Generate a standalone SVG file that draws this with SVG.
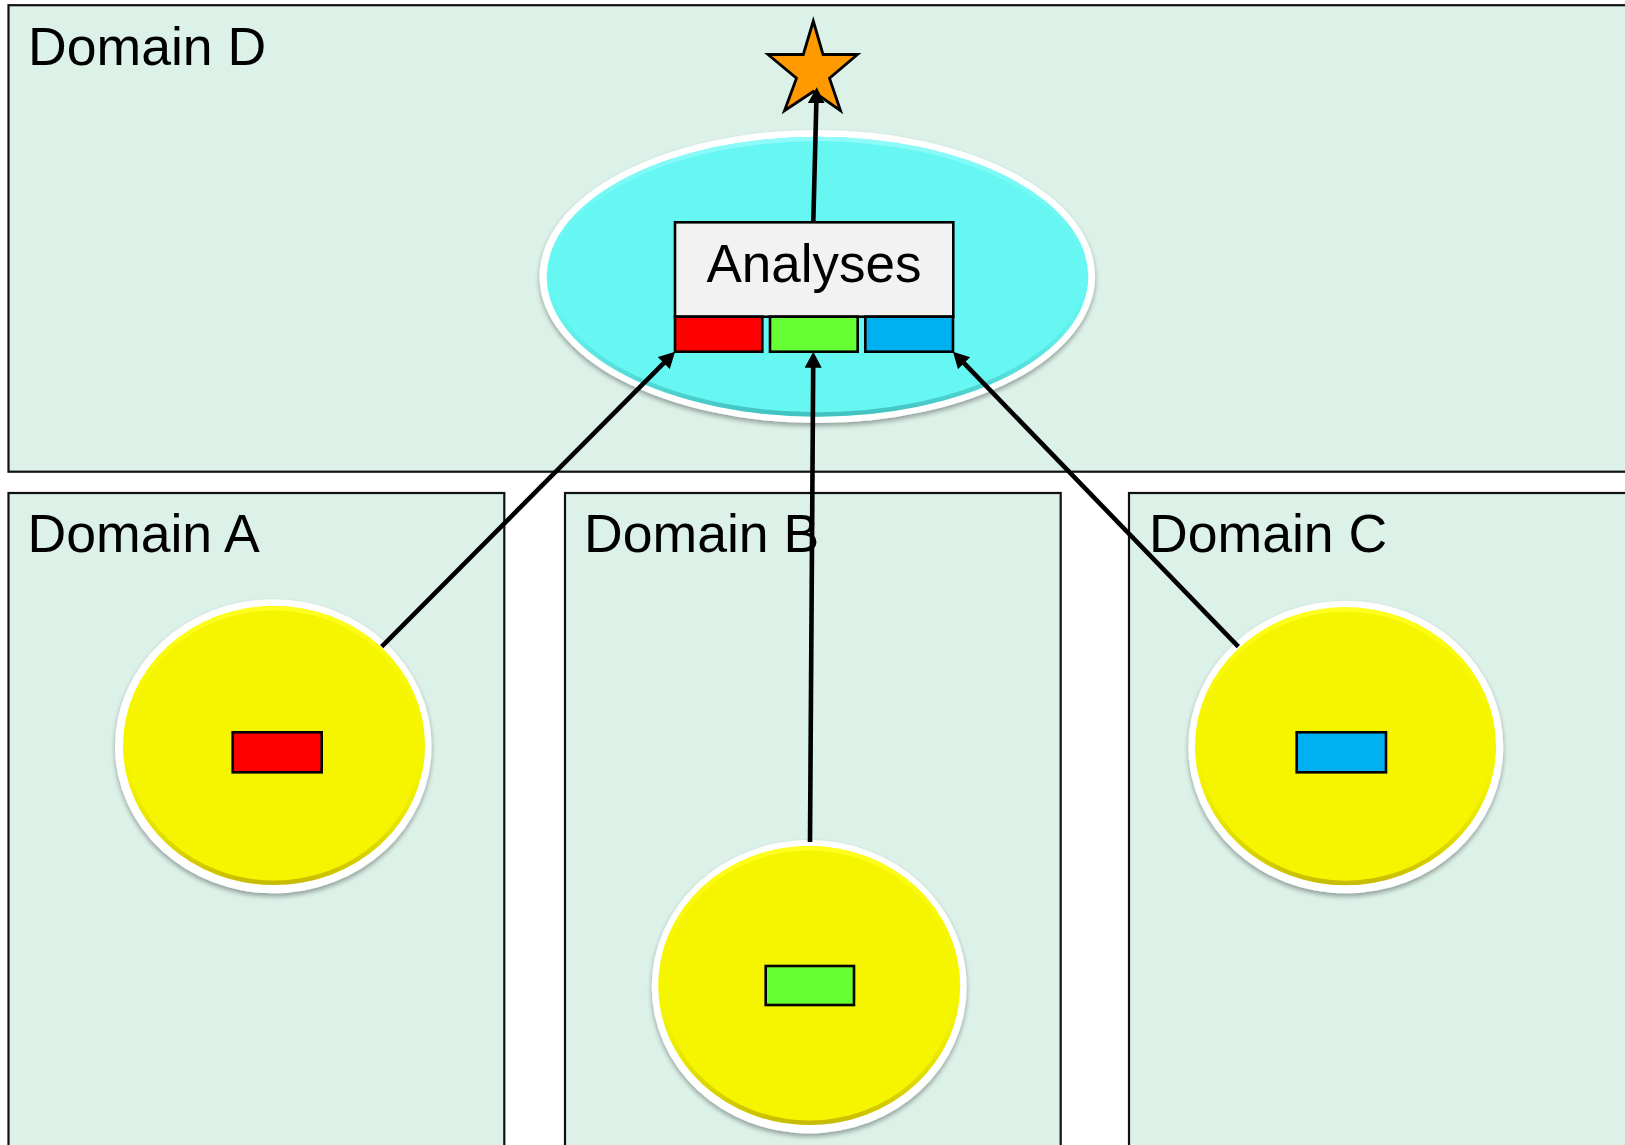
<svg xmlns="http://www.w3.org/2000/svg" width="1625" height="1145" viewBox="0 0 1625 1145">
  <style>
    .domain { fill: #DCF1E8; stroke: #111; stroke-width: 2.2; }
    .label { font-family: "Liberation Sans", Arial, sans-serif; font-size: 53px; fill: #000; }
    .domain-label { font-size: 53.6px; }
    .ring { fill: #fff; filter: url(#shadow); }
    .chip { stroke: #000; stroke-width: 2.6; }
    .red { fill: #FF0000; }
    .green { fill: #66FF33; }
    .blue { fill: #00B0F0; }
    .link { fill: none; stroke: #000; stroke-width: 4.6; marker-end: url(#head); }
  </style>
  <defs>
    <filter id="shadow" x="-10%" y="-10%" width="120%" height="125%">
      <feGaussianBlur in="SourceAlpha" stdDeviation="2.5"/>
      <feOffset dx="0" dy="3" result="b"/>
      <feComponentTransfer><feFuncA type="linear" slope="0.35"/></feComponentTransfer>
      <feMerge><feMergeNode/><feMergeNode in="SourceGraphic"/></feMerge>
    </filter>
    <linearGradient id="yellowBevel" x1="0" y1="0" x2="0" y2="1">
      <stop offset="0" stop-color="#FFFF20"/>
      <stop offset="0.5" stop-color="#F5F500" stop-opacity="0"/>
      <stop offset="1" stop-color="#A89600" stop-opacity="0.6"/>
    </linearGradient>
    <linearGradient id="cyanBevel" x1="0" y1="0" x2="0" y2="1">
      <stop offset="0" stop-color="#8FFBFA"/>
      <stop offset="0.5" stop-color="#66F7F2" stop-opacity="0"/>
      <stop offset="1" stop-color="#2A9FA0" stop-opacity="0.6"/>
    </linearGradient>
    <marker id="head" markerUnits="userSpaceOnUse" markerWidth="18" markerHeight="18" refX="7" refY="8.5" orient="auto">
      <path d="M0,0 L16,8.5 L0,17 z" fill="#000"/>
    </marker>
  </defs>

  <!-- Domain containers -->
  <g id="domain-d">
    <rect class="domain" x="8.5" y="5.2" width="1640" height="466.5"/>
    <text class="label domain-label" x="28" y="65">Domain D</text>
  </g>
  <g id="domain-a">
    <rect class="domain" x="8.5" y="493" width="495.8" height="680"/>
    <text class="label domain-label" x="27.5" y="552">Domain A</text>
  </g>
  <g id="domain-b">
    <rect class="domain" x="565" y="493" width="495.7" height="680"/>
    <text class="label domain-label" x="584" y="552">Domain B</text>
  </g>
  <g id="domain-c">
    <rect class="domain" x="1129" y="493" width="520" height="680"/>
    <text class="label domain-label" x="1149" y="552">Domain C</text>
  </g>

  <!-- Central analysis hub -->
  <g id="analyses">
    <ellipse class="ring" cx="817.3" cy="276.5" rx="277.8" ry="146.5"/>
    <ellipse cx="817.5" cy="276.7" rx="270.8" ry="140" fill="#66F7F2"/>
    <ellipse cx="817.5" cy="276.7" rx="268.5" ry="137.7" fill="none" stroke="url(#cyanBevel)" stroke-width="4.5"/>
    <rect x="675" y="222.3" width="278.3" height="94.4" fill="#F2F2F2" stroke="#000" stroke-width="2.6"/>
    <text class="label" x="814" y="281.7" text-anchor="middle">Analyses</text>
    <rect class="chip red" x="675" y="316.7" width="87.3" height="35"/>
    <rect class="chip green" x="770" y="316.7" width="87.7" height="35"/>
    <rect class="chip blue" x="865.3" y="316.7" width="87.7" height="35"/>
  </g>

  <!-- Result -->
  <g id="result">
    <polygon points="813.3,21 823,54.5 857.5,54.5 829.5,78.3 840.5,110.7 813.3,91.5 784.5,110.7 796.5,78.3 768,54.5 803.3,54.5" fill="#FF9900" stroke="#000" stroke-width="2.8" stroke-linejoin="miter"/>
  </g>

  <!-- Source datasets -->
  <g id="source-a">
    <ellipse class="ring" cx="273.3" cy="746.3" rx="158.3" ry="147"/>
    <ellipse cx="274" cy="745.5" rx="151" ry="139.5" fill="#F5F500"/>
    <ellipse cx="274" cy="745.5" rx="148.8" ry="137.3" fill="none" stroke="url(#yellowBevel)" stroke-width="4.5"/>
    <rect class="chip red" x="232.7" y="732.3" width="89" height="40"/>
  </g>
  <g id="source-b">
    <ellipse class="ring" cx="809.2" cy="986.7" rx="157.5" ry="146.7"/>
    <ellipse cx="809.2" cy="985.5" rx="151" ry="139.5" fill="#F5F500"/>
    <ellipse cx="809.2" cy="985.5" rx="148.8" ry="137.3" fill="none" stroke="url(#yellowBevel)" stroke-width="4.5"/>
    <rect class="chip green" x="765.7" y="966" width="88.3" height="39"/>
  </g>
  <g id="source-c">
    <ellipse class="ring" cx="1345.8" cy="747" rx="157.5" ry="146.3"/>
    <ellipse cx="1345.5" cy="746.2" rx="150.5" ry="138.9" fill="#F5F500"/>
    <ellipse cx="1345.5" cy="746.2" rx="148.3" ry="136.7" fill="none" stroke="url(#yellowBevel)" stroke-width="4.5"/>
    <rect class="chip blue" x="1296.7" y="732.3" width="89.3" height="40"/>
  </g>

  <!-- Connectors -->
  <g id="connectors">
    <line class="link" x1="381.7" y1="646.7" x2="668.7" y2="358.1"/>
    <line class="link" x1="810" y1="842" x2="813.24" y2="360.7"/>
    <line class="link" x1="1238.3" y1="646.7" x2="959.2" y2="358.2"/>
    <line class="link" x1="813.3" y1="222.3" x2="816.5" y2="96.3"/>
  </g>
</svg>
